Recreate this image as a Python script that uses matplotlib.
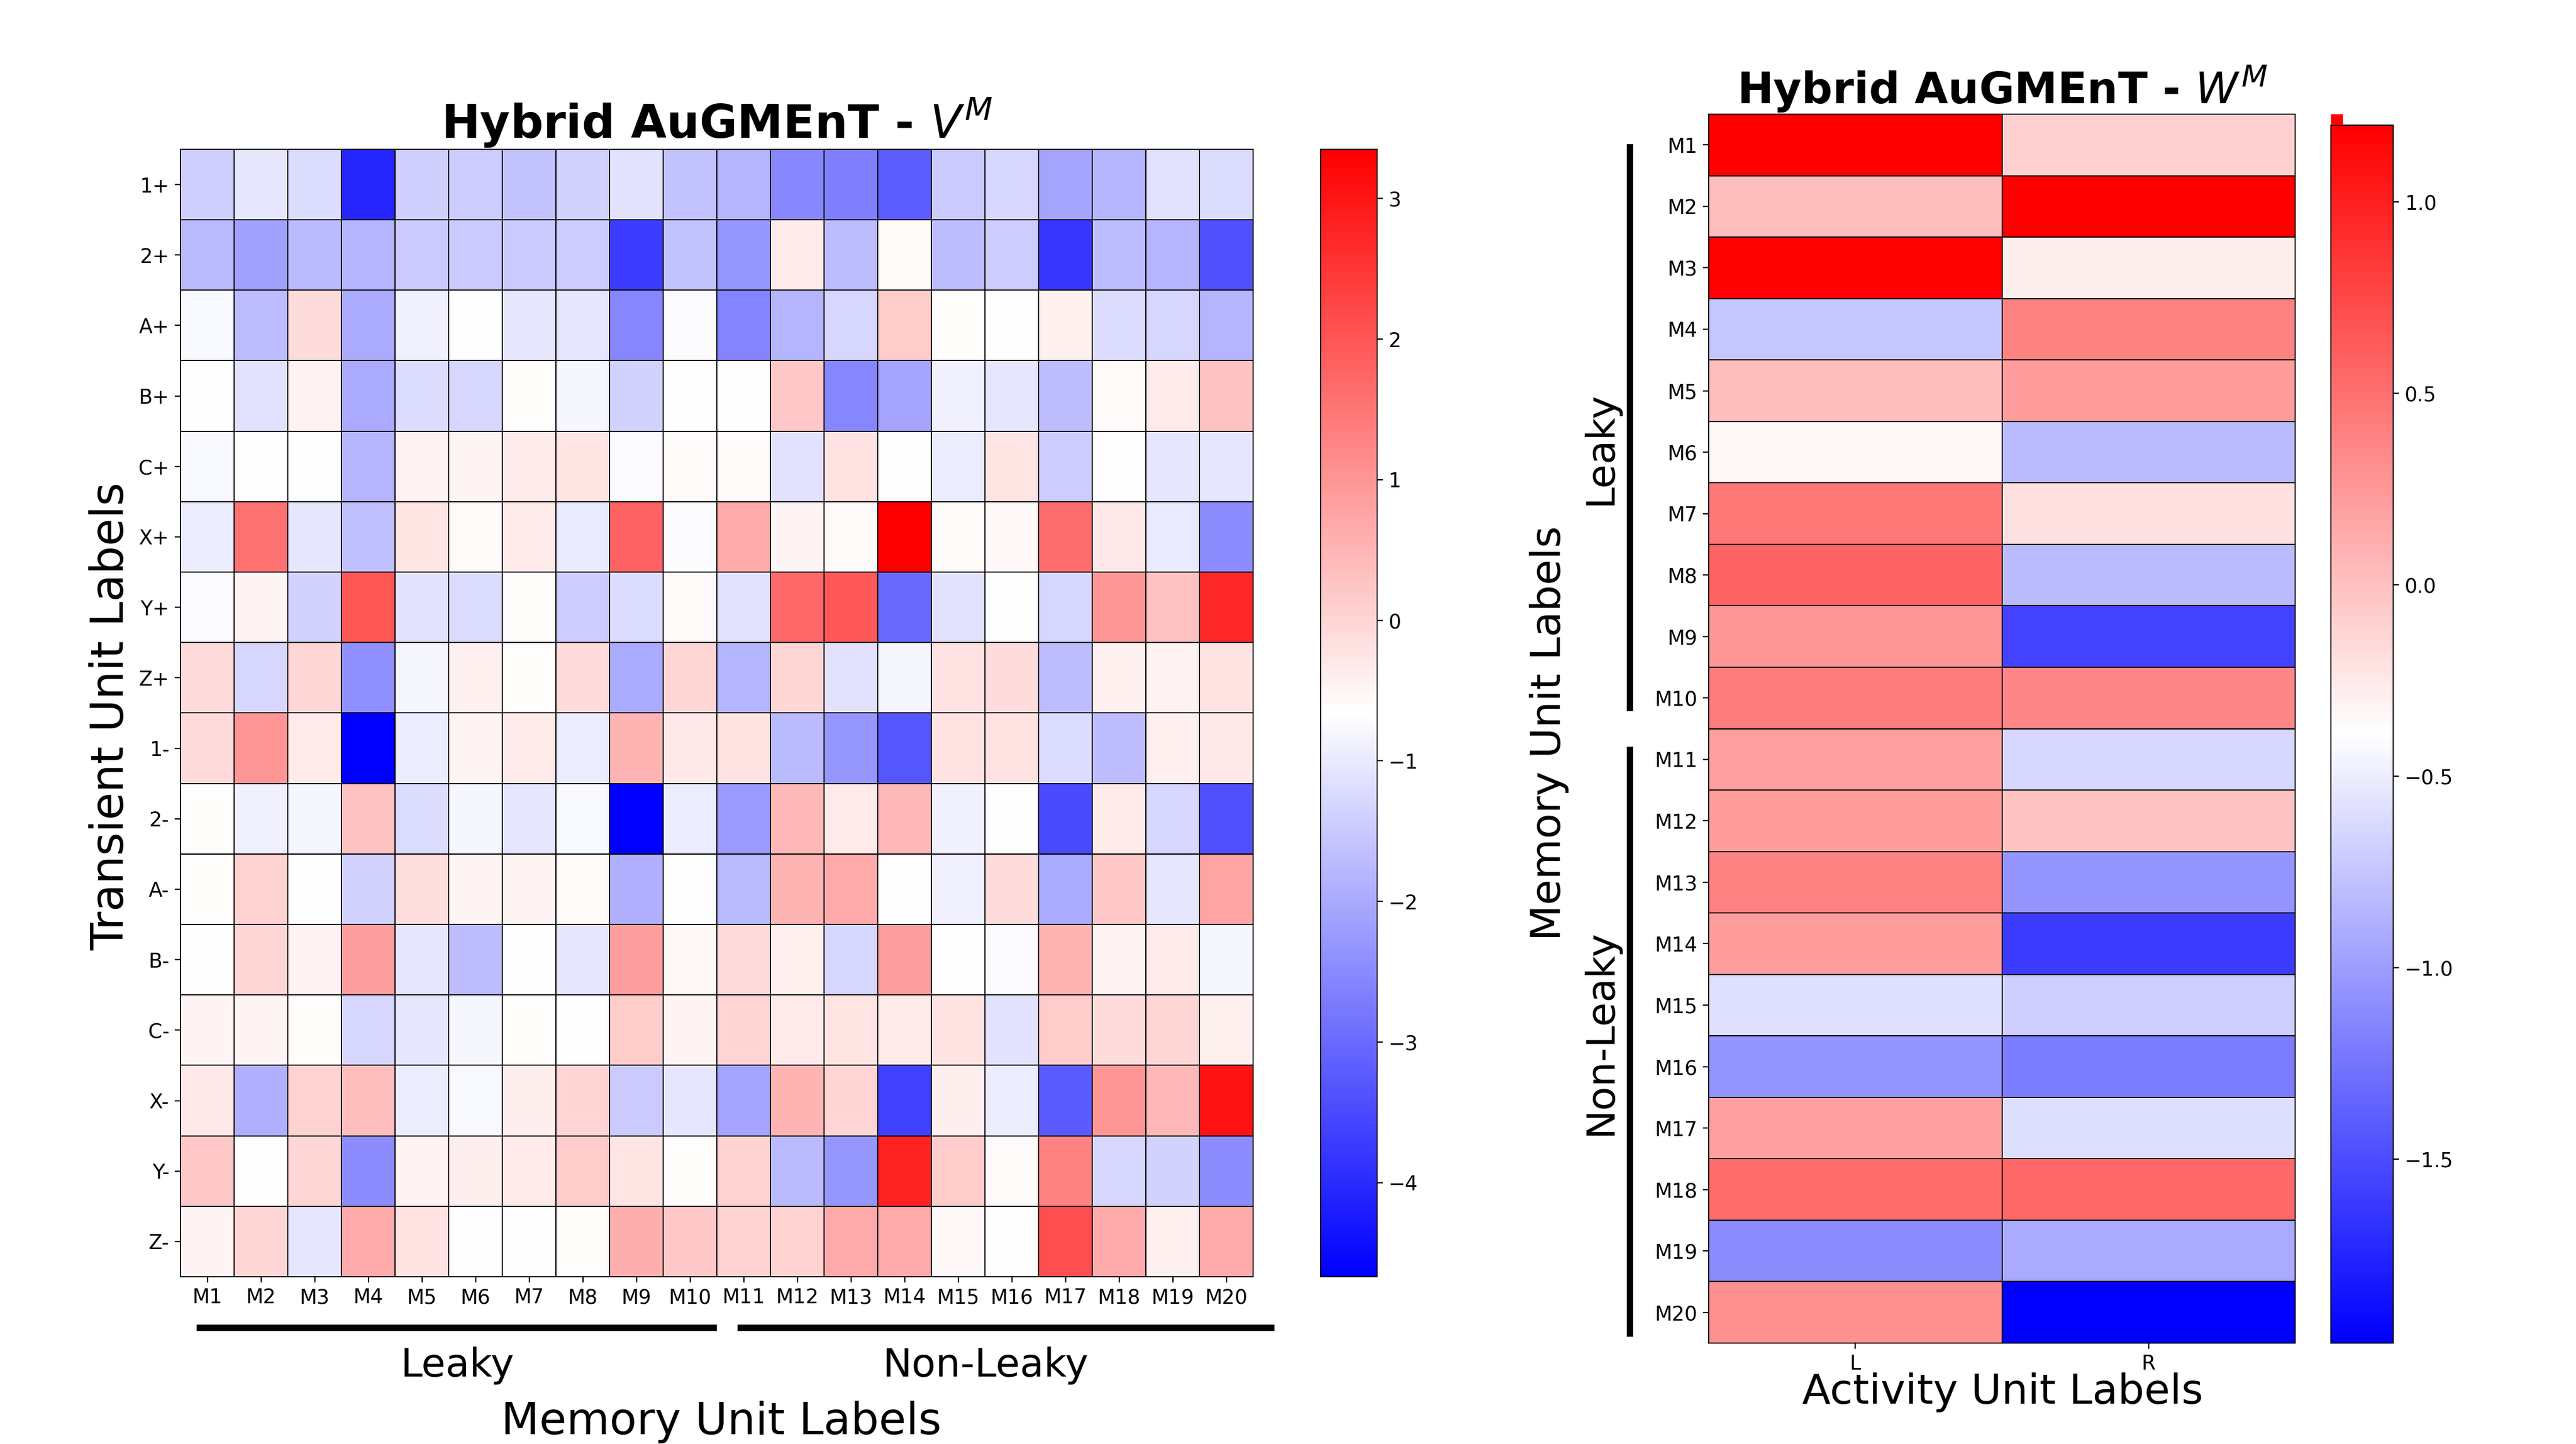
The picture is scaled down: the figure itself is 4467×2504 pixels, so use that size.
"""
Hybrid AuGMEnT weight heatmaps (V^M and W^M)
"""

import numpy as np
import matplotlib
matplotlib.use("Agg")
from matplotlib import pyplot as plt
from matplotlib.lines import Line2D
from matplotlib.patches import Rectangle

#Labels
memory_units = ["M%d" % i for i in range(1, 21)]
transient_units = ["1+", "2+", "A+", "B+", "C+", "X+", "Y+", "Z+",
                   "1-", "2-", "A-", "B-", "C-", "X-", "Y-", "Z-"]
activity_units = ["L", "R"]

#V^M weights, one row per transient unit (M1..M20)
v_1p = [-1.4, -1.05, -1.2, -4.05, -1.4, -1.45, -1.6, -1.35, -1.1, -1.6, -1.85, -2.55, -2.65, -3.2, -1.5, -1.3, -2.07, -1.85, -1.1, -1.2]
v_2p = [-1.75, -2.15, -1.75, -1.85, -1.5, -1.5, -1.5, -1.45, -3.7, -1.6, -2.3, -0.33, -1.7, -0.58, -1.7, -1.45, -3.8, -1.7, -1.85, -3.4]
v_Ap = [-0.78, -1.7, -0.1, -2.0, -0.9, -0.66, -1.05, -1.05, -2.55, -0.75, -2.6, -1.85, -1.3, 0.15, -0.6, -0.66, -0.42, -1.2, -1.3, -1.85]
v_Bp = [-0.68, -1.1, -0.45, -2.0, -1.2, -1.3, -0.6, -0.8, -1.35, -0.66, -0.66, 0.2, -2.55, -2.1, -0.9, -1.05, -1.7, -0.58, -0.33, 0.3]
v_Cp = [-0.78, -0.66, -0.66, -1.85, -0.45, -0.5, -0.33, -0.25, -0.75, -0.58, -0.58, -1.1, -0.22, -0.64, -0.97, -0.25, -1.45, -0.66, -1.05, -1.05]
v_Xp = [-0.97, 1.55, -1.05, -1.65, -0.25, -0.58, -0.33, -1.0, 1.8, -0.7, 0.68, -0.5, -0.58, 3.35, -0.58, -0.55, 1.6, -0.3, -1.0, -2.45]
v_Yp = [-0.75, -0.5, -1.35, 2.0, -1.1, -1.2, -0.6, -1.45, -1.2, -0.58, -1.1, 1.7, 1.95, -3.0, -1.1, -0.66, -1.3, 1.0, 0.3, 2.72]
v_Zp = [-0.07, -1.3, -0.03, -2.4, -0.8, -0.42, -0.6, -0.1, -2.0, -0.03, -1.85, -0.03, -1.1, -0.8, -0.22, -0.1, -1.7, -0.42, -0.45, -0.2]
v_1m = [-0.07, 1.0, -0.33, -4.67, -0.97, -0.5, -0.33, -0.97, 0.5, -0.3, -0.2, -1.75, -2.3, -3.3, -0.2, -0.2, -1.2, -1.7, -0.42, -0.3]
v_2m = [-0.62, -0.9, -0.8, 0.3, -1.2, -0.8, -1.05, -0.78, -4.64, -0.97, -2.23, 0.45, -0.33, 0.45, -0.9, -0.66, -3.5, -0.33, -1.3, -3.4]
v_Am = [-0.62, 0.05, -0.64, -1.35, -0.15, -0.5, -0.5, -0.58, -1.9, -0.66, -1.75, 0.5, 0.68, -0.66, -0.9, -0.1, -2.0, 0.2, -1.05, 0.75]
v_Bm = [-0.66, -0.03, -0.45, 0.85, -1.05, -1.7, -0.66, -1.05, 0.85, -0.55, -0.07, -0.42, -1.3, 0.85, -0.66, -0.75, 0.5, -0.45, -0.33, -0.8]
v_Cm = [-0.5, -0.5, -0.6, -1.3, -1.05, -0.8, -0.62, -0.66, 0.15, -0.5, 0.02, -0.33, -0.25, -0.33, -0.2, -1.1, 0.15, -0.1, -0.03, -0.42]
v_Xm = [-0.3, -1.9, 0.05, 0.35, -0.97, -0.76, -0.38, 0.02, -1.5, -1.05, -2.1, 0.5, 0.02, -3.65, -0.38, -0.97, -3.25, 1.0, 0.45, 3.05]
v_Ym = [0.2, -0.66, -0.03, -2.45, -0.45, -0.38, -0.33, 0.15, -0.25, -0.62, 0.05, -1.75, -2.3, 2.8, 0.15, -0.58, 1.3, -1.3, -1.35, -2.45]
v_Zm = [-0.5, -0.03, -1.05, 0.68, -0.2, -0.66, -0.66, -0.6, 0.6, 0.2, 0.05, 0.05, 0.68, 0.68, -0.55, -0.66, 2.1, 0.68, -0.42, 0.68]

#W^M weights, per memory unit (M1..M20)
w_L = [1.2, 0.01, 1.18, -0.74, 0.01, -0.33, 0.45, 0.58, 0.26, 0.42,
       0.2, 0.23, 0.39, 0.23, -0.58, -1.05, 0.2, 0.52, -1.11, 0.3]
w_R = [-0.1, 1.19, -0.28, 0.39, 0.23, -0.82, -0.2, -0.82, -1.55, 0.36,
       -0.64, -0.01, -1.05, -1.6, -0.7, -1.2, -0.6, 0.55, -0.92, -1.98]

VM = np.array([v_1p, v_2p, v_Ap, v_Bp, v_Cp, v_Xp, v_Yp, v_Zp,
               v_1m, v_2m, v_Am, v_Bm, v_Cm, v_Xm, v_Ym, v_Zm])
WM = np.array([w_L, w_R]).T

plt.rcParams['font.family'] = ['DejaVu Sans']
fig = plt.figure(figsize=(4467 / 200, 2504 / 200), dpi=200)

tick_fs = 12.5
label_fs = 26
group_fs = 24.5

#Left heatmap: V^M
ax1 = fig.add_axes([0.0701, 0.1158, 0.4164, 0.7808])
cax1 = fig.add_axes([0.5127, 0.1158, 0.0219, 0.7808])
m1 = ax1.pcolormesh(VM, cmap="bwr", edgecolors="k", linewidth=0.7)
ax1.set_xlim(0, VM.shape[1])
ax1.set_ylim(VM.shape[0], 0)
ax1.set_xticks(np.arange(VM.shape[1]) + 0.5)
ax1.set_xticklabels(memory_units, fontsize=tick_fs)
ax1.set_yticks(np.arange(VM.shape[0]) + 0.5)
ax1.set_yticklabels(transient_units, fontsize=tick_fs)
ax1.set_title(r"Hybrid AuGMEnT - $V^M$", fontsize=28.8, fontweight="bold", pad=2.5)
cb1 = fig.colorbar(m1, cax=cax1)
cb1.ax.tick_params(labelsize=tick_fs)
cb1.outline.set_linewidth(0.7)

#Right heatmap: W^M
ax2 = fig.add_axes([0.6633, 0.0699, 0.2277, 0.851])
cax2 = fig.add_axes([0.9049, 0.0699, 0.0242, 0.8435])
m2 = ax2.pcolormesh(WM, cmap="bwr", edgecolors="k", linewidth=0.7)
ax2.set_xlim(0, WM.shape[1])
ax2.set_ylim(WM.shape[0], 0)
ax2.set_xticks(np.arange(WM.shape[1]) + 0.5)
ax2.set_xticklabels(activity_units, fontsize=tick_fs)
ax2.set_yticks(np.arange(WM.shape[0]) + 0.5)
ax2.set_yticklabels(memory_units, fontsize=tick_fs)
ax2.set_title(r"Hybrid AuGMEnT - $W^M$", fontsize=27, fontweight="bold", pad=3.5)
cb2 = fig.colorbar(m2, cax=cax2)
cb2.ax.tick_params(labelsize=tick_fs)
cb2.outline.set_linewidth(0.7)
#little red sliver sticking out above the right colour bar
fig.add_artist(Rectangle((4042 / 4467, 1 - 217 / 2504), 21 / 4467, 19 / 2504,
                         transform=fig.transFigure, color="red", lw=0))

for a in (ax1, ax2):
    for s in a.spines.values():
        s.set_linewidth(0.7)

#Axis labels and group annotations
fig.text(0.043, 0.504, "Transient Unit Labels", rotation=90, fontsize=28,
         ha="center", va="center")
fig.text(0.280, 0.0068, "Memory Unit Labels", fontsize=27.6, ha="center", va="baseline")
fig.text(0.1775, 0.0467, "Leaky", fontsize=group_fs, ha="center", va="baseline")
fig.text(0.3826, 0.0467, "Non-Leaky", fontsize=group_fs, ha="center", va="baseline")
fig.add_artist(Line2D([0.0775, 0.2769], [0.0807, 0.0807], color="k", lw=4,
                      transform=fig.transFigure))
fig.add_artist(Line2D([0.2874, 0.4934], [0.0807, 0.0807], color="k", lw=4,
                      transform=fig.transFigure))

fig.text(0.6013, 0.4924, "Memory Unit Labels", rotation=90, fontsize=label_fs,
         ha="center", va="center")
fig.text(0.7773, 0.028, "Activity Unit Labels", fontsize=label_fs, ha="center", va="baseline")
fig.text(0.6214, 0.6897, "Leaky", rotation=90, fontsize=group_fs, ha="center", va="center")
fig.text(0.6214, 0.2851, "Non-Leaky", rotation=90, fontsize=group_fs, ha="center", va="center")
fig.add_artist(Line2D([0.6326, 0.6326], [0.8982, 0.5100], color="k", lw=4,
                      transform=fig.transFigure))
fig.add_artist(Line2D([0.6326, 0.6326], [0.4808, 0.0767], color="k", lw=4,
                      transform=fig.transFigure))

fig.savefig("out.png", dpi=200)
